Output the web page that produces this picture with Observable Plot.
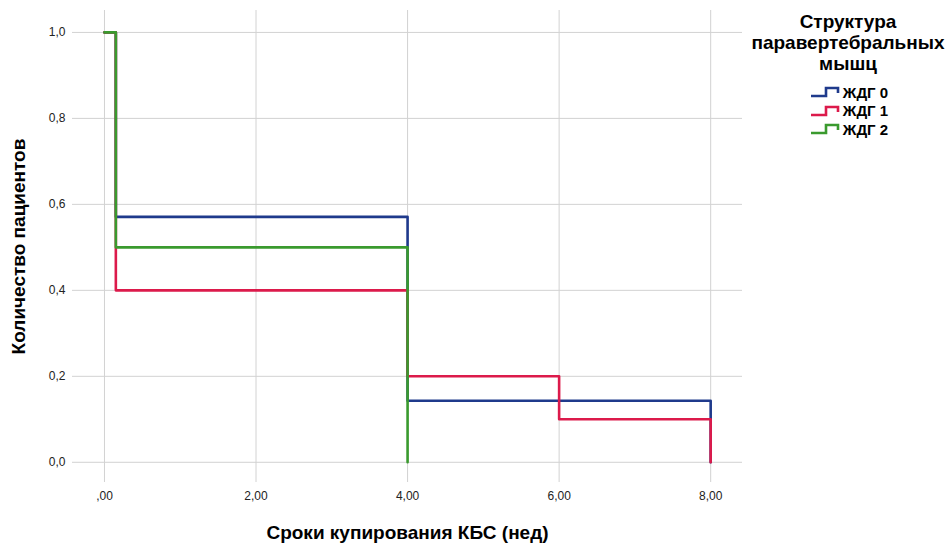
<!DOCTYPE html>
<html>
<head>
<meta charset="utf-8">
<script src="https://cdn.jsdelivr.net/npm/d3@7"></script>
<script src="https://cdn.jsdelivr.net/npm/@observablehq/plot@0.6"></script>
<style>
  body { margin: 0; background: #fff; font-family: "Liberation Sans", Arial, sans-serif; }
  #wrap { position: relative; width: 952px; height: 544px; }
  #legend { position: absolute; left: 746px; top: 11px; width: 204px; text-align: center; color: #000; }
  #legend .title { font-weight: bold; font-size: 19px; line-height: 21px; }
  #legend .items { margin-top: 9px; display: inline-block; text-align: left; margin-left: 2px; }
  #legend .item { display: flex; align-items: center; font-weight: bold; font-size: 15px; height: 18.5px;
    font-family: "Liberation Sans Narrow", "Liberation Sans", Arial, sans-serif; }
  #legend svg { margin-right: 2px; }
</style>
</head>
<body>
<div id="wrap"><div id="chart"></div><div id="legend"></div></div>
<script>
const groups = ["ЖДГ 0", "ЖДГ 1", "ЖДГ 2"];
const colors = ["#1f3a8c", "#dc1a4b", "#3a9a2e"];
const times0 = [0, 0.15, 4, 8];
const surv0  = [1, 0.571, 0.143, 0];
const times1 = [0, 0.15, 4, 6, 8];
const surv1  = [1, 0.4, 0.2, 0.1, 0];
const times2 = [0, 0.15, 4];
const surv2  = [1, 0.5, 0];
const xTicks = [0, 2, 4, 6, 8];
const yTicks = [0, 0.2, 0.4, 0.6, 0.8, 1.0];

const series = [[times0, surv0], [times1, surv1], [times2, surv2]];
const data = series.flatMap(([t, s], gi) => t.map((x, i) => ({group: groups[gi], x, y: s[i]})));

const fmtX = d => d === 0 ? ",00" : d.toFixed(2).replace(".", ",");
const fmtY = d => d.toFixed(1).replace(".", ",");

const plot = Plot.plot({
  width: 952,
  height: 544,
  marginLeft: 72,
  marginRight: 210,
  marginTop: 10,
  marginBottom: 62,
  style: {fontFamily: "'Liberation Sans', Arial, sans-serif", fontSize: "12px", color: "#222", background: "#fff"},
  x: {domain: [-0.422, 8.42]},
  y: {domain: [-0.047, 1.051]},
  color: {domain: groups, range: colors},
  marks: [
    Plot.ruleX(xTicks, {stroke: "#d2d2d2", strokeWidth: 1}),
    Plot.ruleY(yTicks, {stroke: "#d2d2d2", strokeWidth: 1}),
    Plot.axisX(xTicks, {tickSize: 0, tickPadding: 9, tickFormat: fmtX, fill: "#222",
      label: "Сроки купирования КБС (нед)", labelAnchor: "center", labelOffset: 56, labelArrow: false}),
    Plot.axisY(yTicks, {tickSize: 0, tickPadding: 7, tickFormat: fmtY, fill: "#222",
      label: "Количество пациентов", labelAnchor: "center", labelOffset: 61, labelArrow: false}),
    Plot.line(data, {x: "x", y: "y", z: "group", stroke: "group", curve: "step-after", strokeWidth: 2.6})
  ]
});
document.getElementById("chart").appendChild(plot);

plot.querySelectorAll("g[aria-label='x-axis label'] text, g[aria-label='y-axis label'] text").forEach(t => {
  t.style.fontWeight = "bold";
  t.style.fontSize = "19px";
  t.style.fill = "#000";
});

const legend = document.getElementById("legend");
legend.innerHTML = `<div class="title">Структура<br>паравертебральных<br>мышц</div>`;
const items = document.createElement("div");
items.className = "items";
groups.forEach((g, i) => {
  const row = document.createElement("div");
  row.className = "item";
  row.innerHTML = `<svg width="31" height="12"><path d="M1,10 H16 V2 H28 V7" fill="none" stroke="${colors[i]}" stroke-width="2.6"/></svg><span>${g}</span>`;
  items.appendChild(row);
});
legend.appendChild(items);
</script>
</body>
</html>
